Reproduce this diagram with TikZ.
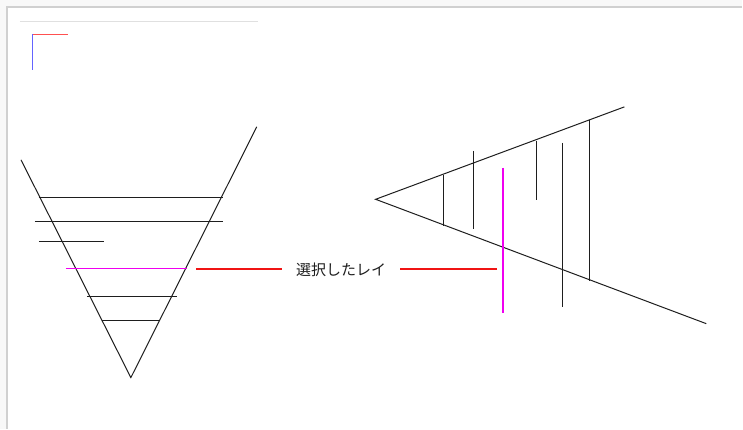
\documentclass[tikz,border=0pt]{standalone}
\usepackage{fontspec}
\usepackage{tikz}
\usetikzlibrary{positioning}
\newfontfamily\jpfont{Noto Sans CJK JP}
\definecolor{framegrey}{RGB}{208,208,208}
\definecolor{outergrey}{RGB}{248,248,248}
\definecolor{rulegrey}{RGB}{224,224,224}
\definecolor{raymagenta}{RGB}{240,0,240}
\definecolor{markred}{RGB}{240,20,20}
\definecolor{axisred}{RGB}{255,80,80}
\definecolor{axisblue}{RGB}{100,100,255}
\definecolor{inkdark}{RGB}{30,30,30}
\tikzset{
  ray/.style={draw=inkdark, line width=1pt},
  pickray/.style={draw=raymagenta, line width=1.2pt},
  marker/.style={draw=markred, line width=2.2pt},
  raylabel/.style={font=\jpfont\fontsize{15}{15}\selectfont, text=inkdark, inner sep=0pt}
}
\begin{document}
\begin{tikzpicture}[x=1pt, y=-1pt]
  % window frame
  \fill[outergrey] (0,0) rectangle (743,429);
  \fill[white] (7,7) rectangle (743,429);
  \draw[framegrey, line width=1.5pt] (7,429) -- (7,7) -- (743,7);
  \draw[rulegrey, line width=1pt] (20,22) -- (258,22);
  \useasboundingbox (0,0) rectangle (743,429);

  % axis gizmo
  \coordinate (origin) at (33,34.5);
  \draw[axisred, line width=1pt] (origin) -- ++(35,0);
  \draw[axisblue, line width=1pt] (origin) -- ++(0,36);

  % left view: frustum seen from the side
  \coordinate (apexL) at (131,378);
  \coordinate (edgeLa) at (21,160);
  \coordinate (edgeLb) at (257,127);
  \draw[ray] (edgeLa) -- (apexL) -- (edgeLb);
  \draw[ray] (39,197.5) -- (223,197.5);
  \draw[ray] (35,221.5) -- (223,221.5);
  \draw[ray] (39,242) -- (104,242);
  \draw[ray] (87,296.5) -- (177,296.5);
  \draw[ray] (102,321) -- (160,321);
  \draw[pickray] (66,269) -- (187,269);

  % right view: frustum seen from above
  \coordinate (apexR) at (376,199.5);
  \coordinate (edgeRa) at (625,107);
  \coordinate (edgeRb) at (707,324);
  \draw[ray] (edgeRa) -- (apexR) -- (edgeRb);
  \draw[ray] (444,175.5) -- (444,226);
  \draw[ray] (474,151) -- (474,229.5);
  \draw[ray] (537.5,141.5) -- (537.5,200);
  \draw[ray] (563.5,143) -- (563.5,307.5);
  \draw[ray] (590,120) -- (590,281);
  \draw[pickray] (503.5,168) -- (503.5,313.5);

  % label
  \node[raylabel] (label) at (341.5,270) {選択したレイ};
  \coordinate (markL) at (196.5,269);
  \coordinate (markR) at (497.5,269);
  \draw[marker] (markL) -- ++(85.5,0);
  \draw[marker] (markR) -- ++(-97.5,0);
\end{tikzpicture}
\end{document}
